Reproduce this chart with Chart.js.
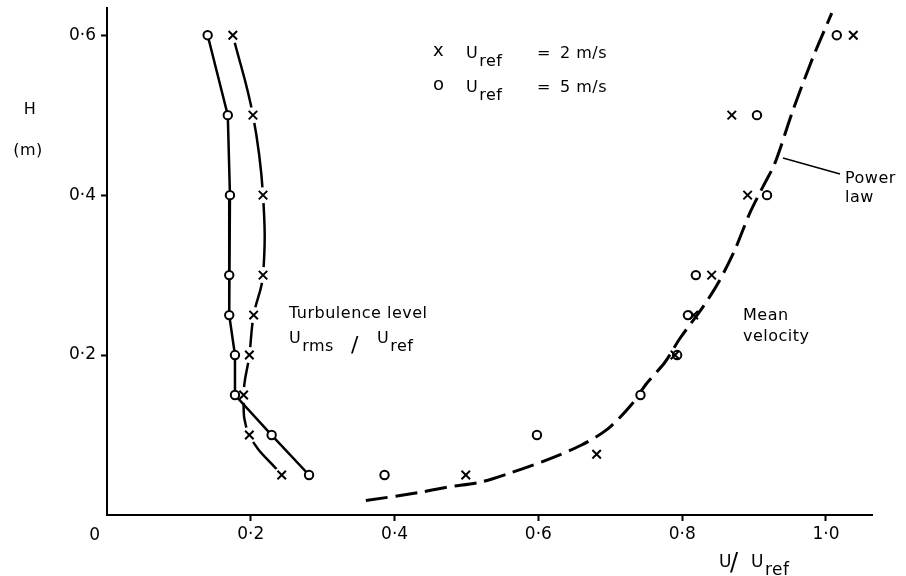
<!DOCTYPE html>
<html>
<head>
<meta charset="utf-8">
<script src="https://cdn.jsdelivr.net/npm/chart.js@4.4.1/dist/chart.umd.min.js"></script>
<style>
  html, body { margin: 0; padding: 0; background: #fff; }
  #wrap { width: 906px; height: 576px; }
</style>
</head>
<body>
<div id="wrap"><canvas id="c" width="906" height="576"></canvas></div>
<script>
// Boundary layer profiles: height H (m) against turbulence level and mean velocity
var heights = [0.6, 0.5, 0.4, 0.3, 0.25, 0.2, 0.15, 0.1, 0.05];

// Turbulence level Urms/Uref
var turbU2 = [0.175, 0.203, 0.217, 0.217, 0.204, 0.198, 0.190, 0.198, 0.243];
var turbU5 = [0.140, 0.168, 0.171, 0.170, 0.170, 0.178, 0.178, 0.229, 0.281];

// Mean velocity U/Uref
var meanH2 = [0.6, 0.5, 0.4, 0.3, 0.25, 0.2, 0.076, 0.05];
var meanU2 = [1.038, 0.869, 0.891, 0.841, 0.816, 0.790, 0.681, 0.499];
var meanU5 = [1.015, 0.904, 0.918, 0.819, 0.808, 0.793, 0.742, 0.598, 0.386];

// Power law curve as drawn
var powerU = [0.360, 0.433, 0.474, 0.519, 0.559, 0.612, 0.660, 0.697, 0.729, 0.751,
              0.776, 0.797, 0.828, 0.850, 0.873, 0.894, 0.912, 0.929, 0.954, 0.982, 1.008];
var powerH = [0.018, 0.028, 0.035, 0.041, 0.052, 0.069, 0.0875, 0.108, 0.1375, 0.165,
              0.191, 0.221, 0.259, 0.290, 0.331, 0.3775, 0.410, 0.440, 0.506, 0.5725, 0.6275];

var xTicks = [0.2, 0.4, 0.6, 0.8, 1.0];
var yTicks = [0.2, 0.4, 0.6];

var FONT = '"DejaVu Sans", sans-serif';

function pts(us, hs) {
    return us.map(function (u, i) { return { x: u, y: hs[i] }; });
}
function dotted(v) { return v.toFixed(1).replace('.', '\u00b7'); }

// main text followed by a lowered subscript, returns end x
function sub(ctx, x, y, main, s, size) {
    ctx.font = size + 'px ' + FONT;
    ctx.fillText(main, x, y);
    var w = ctx.measureText(main).width;
    ctx.fillText(s, x + w + 1, y + 8);
    return x + w + 1 + ctx.measureText(s).width;
}

var notes = {
    id: 'notes',
    afterDraw: function (chart) {
        var ctx = chart.ctx;
        ctx.save();
        ctx.fillStyle = '#000';
        ctx.strokeStyle = '#000';
        ctx.textBaseline = 'alphabetic';
        if ('letterSpacing' in ctx) { ctx.letterSpacing = '0.5px'; }

        // axis titles
        ctx.textAlign = 'center';
        ctx.font = '16px ' + FONT;
        ctx.fillText('H', 30, 114);
        ctx.fillText('(m)', 28, 155);
        ctx.font = '17px ' + FONT;
        ctx.fillText('0', 95, 540);

        ctx.textAlign = 'left';
        ctx.font = '17px ' + FONT;
        ctx.fillText('U', 719, 567);
        ctx.font = '24px ' + FONT;
        ctx.fillText('/', 730, 570);
        sub(ctx, 751, 567, 'U', 'ref', 17);

        // legend
        ctx.font = '18px ' + FONT;
        ctx.fillText('x', 433, 56);
        ctx.fillText('o', 433, 90);
        sub(ctx, 466, 58, 'U', 'ref', 16);
        sub(ctx, 466, 92, 'U', 'ref', 16);
        ctx.font = '16px ' + FONT;
        ctx.fillText('=', 537, 58);
        ctx.fillText('=', 537, 92);
        ctx.fillText('2 m/s', 560, 58);
        ctx.fillText('5 m/s', 560, 92);

        // curve labels
        ctx.font = '16px ' + FONT;
        ctx.fillText('Turbulence level', 289, 318);
        sub(ctx, 289, 343, 'U', 'rms', 16);
        ctx.font = '22px ' + FONT;
        ctx.fillText('/', 351, 352);
        sub(ctx, 377, 343, 'U', 'ref', 16);

        ctx.font = '16px ' + FONT;
        ctx.fillText('Mean', 743, 320);
        ctx.fillText('velocity', 743, 341);
        ctx.fillText('Power', 845, 183);
        ctx.fillText('law', 845, 202);

        ctx.lineWidth = 1.5;
        ctx.beginPath();
        ctx.moveTo(783, 158);
        ctx.lineTo(840, 174);
        ctx.stroke();
        ctx.restore();
    }
};

new Chart(document.getElementById('c'), {
    type: 'scatter',
    data: {
        datasets: [
            {   // power law
                data: pts(powerU, powerH), showLine: true, tension: 0.3,
                borderColor: '#000', borderWidth: 3, borderDash: [22, 8],
                pointRadius: 0, order: 6
            },
            {   // 2 m/s turbulence curve
                data: pts(turbU2, heights), showLine: true, tension: 0.4,
                borderColor: '#000', borderWidth: 2.5, pointRadius: 0, order: 5
            },
            {   // breaks in the curve around the crosses
                data: pts(turbU2, heights), showLine: false,
                pointRadius: 8, pointBorderWidth: 0,
                pointBackgroundColor: '#fff', pointBorderColor: '#fff', order: 4
            },
            {   // 5 m/s turbulence
                data: pts(turbU5, heights), showLine: true, tension: 0,
                borderColor: '#000', borderWidth: 2.5,
                pointStyle: 'circle', pointRadius: 4.2, pointBorderWidth: 2,
                pointBorderColor: '#000', pointBackgroundColor: '#fff', order: 3
            },
            {
                data: pts(turbU2, heights), showLine: false,
                pointStyle: 'crossRot', pointRadius: 6, pointBorderWidth: 2,
                pointBorderColor: '#000', order: 2
            },
            {   // mean velocity 5 m/s
                data: pts(meanU5, heights), showLine: false,
                pointStyle: 'circle', pointRadius: 4.2, pointBorderWidth: 2,
                pointBorderColor: '#000', pointBackgroundColor: '#fff', order: 1
            },
            {   // mean velocity 2 m/s
                data: pts(meanU2, meanH2), showLine: false,
                pointStyle: 'crossRot', pointRadius: 6, pointBorderWidth: 2,
                pointBorderColor: '#000', order: 0
            }
        ]
    },
    options: {
        responsive: false,
        animation: false,
        devicePixelRatio: 1,
        events: [],
        layout: { padding: { top: 8, right: 34, left: 0, bottom: 0 } },
        plugins: { legend: { display: false }, tooltip: { enabled: false } },
        scales: {
            x: {
                type: 'linear', min: 0, max: 1.064,
                afterBuildTicks: function (s) { s.ticks = xTicks.map(function (v) { return { value: v }; }); },
                afterFit: function (s) { s.height = 61; s.paddingLeft = 0; s.paddingRight = 0; },
                border: { display: true, color: '#000', width: 2 },
                grid: { drawOnChartArea: false, drawTicks: true, tickLength: 6, tickColor: '#000', tickWidth: 2 },
                ticks: { color: '#000', padding: 3, font: { family: FONT, size: 17 }, callback: dotted }
            },
            y: {
                type: 'linear', min: 0, max: 0.634,
                afterBuildTicks: function (s) { s.ticks = yTicks.map(function (v) { return { value: v }; }); },
                afterFit: function (s) { s.width = 107; s.paddingTop = 0; s.paddingBottom = 0; },
                border: { display: true, color: '#000', width: 2 },
                grid: { drawOnChartArea: false, drawTicks: true, tickLength: 6, tickColor: '#000', tickWidth: 2 },
                ticks: { color: '#000', padding: 5, font: { family: FONT, size: 17 }, callback: dotted }
            }
        }
    },
    plugins: [notes]
});
</script>
</body>
</html>
